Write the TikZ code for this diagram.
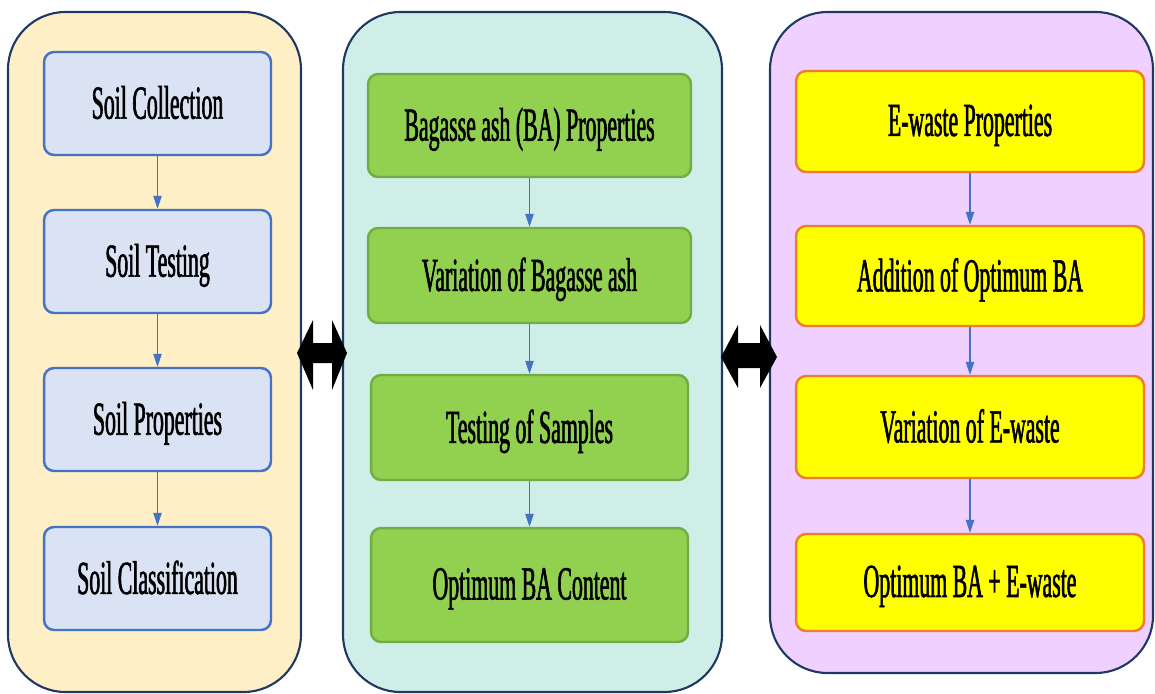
\documentclass[tikz,border=0pt]{standalone}
\usepackage{fontspec}
\newfontfamily\boxfont[FakeStretch=0.46, FakeBold=1.2]{Liberation Serif}
\usetikzlibrary{arrows.meta}

\definecolor{panelline}{HTML}{203864}
\definecolor{soilfill}{HTML}{FFEFC6}
\definecolor{ashfill}{HTML}{CFEEE8}
\definecolor{ewfill}{HTML}{F0D0FF}
\definecolor{bluefill}{HTML}{DAE3F3}
\definecolor{blueline}{HTML}{4472C4}
\definecolor{greenfill}{HTML}{92D050}
\definecolor{greenline}{HTML}{70AD47}
\definecolor{orangeline}{HTML}{ED7D31}
\definecolor{ewbox}{HTML}{FFFF00}

\tikzset{
	box/.style={rectangle, rounded corners=0.2cm, line width=1.4pt, align=center,
		font=\boxfont\fontsize{27}{32}\selectfont, inner sep=0pt, text depth=0.05cm},
	soilbox/.style={box, draw=blueline, fill=bluefill, minimum width=4.54cm, minimum height=2.06cm},
	ashbox/.style={box, draw=greenline, fill=greenfill, minimum width=6.46cm, minimum height=2.06cm},
	ewbox/.style={box, draw=orangeline, fill=ewbox, minimum width=6.96cm, minimum height=2.02cm},
	flow/.style={-{Triangle[width=0.17cm, length=0.26cm]}, draw=blueline, fill=blueline, line width=0.6pt},
	panel/.style={draw=panelline, line width=1.2pt, rounded corners=1.15cm}
}

\begin{document}
\begin{tikzpicture}[x=0.02cm, y=-0.02cm]
	\useasboundingbox (0, 0) rectangle (1155, 693);

	% panels
	\draw[panel, fill=soilfill] (8, 12) rectangle (301, 692);
	\draw[panel, fill=ashfill] (343, 12) rectangle (722, 692);
	\draw[panel, fill=ewfill] (770, 12) rectangle (1153, 673);

	% soil
	\node[soilbox] (soilcol) at (157.5, 103.5) {Soil Collection};
	\node[soilbox] (soiltest) at (157.5, 261.5) {Soil Testing};
	\node[soilbox] (soilprop) at (157.5, 419.5) {Soil Properties};
	\node[soilbox] (soilclass) at (157.5, 578.5) {Soil Classification};

	% bagasse ash
	\node[ashbox] (baprop) at (529.5, 125.5) {Bagasse ash (BA) Properties};
	\node[ashbox, minimum height=1.9cm] (bavar) at (529.5, 275.5) {Variation of Bagasse ash};
	\node[ashbox, minimum width=6.34cm, minimum height=2.1cm] (batest) at (529.5, 427.5) {Testing of Samples};
	\node[ashbox, minimum width=6.34cm, minimum height=2.28cm] (baopt) at (529.5, 585) {Optimum BA Content};

	% e-waste
	\node[ewbox] (ewprop) at (970, 121.5) {E-waste Properties};
	\node[ewbox, minimum height=2cm] (ewadd) at (970, 276) {Addition of Optimum BA};
	\node[ewbox, minimum height=2.04cm] (ewvar) at (970, 427) {Variation of E-waste};
	\node[ewbox, minimum height=1.94cm] (ewopt) at (970, 582.5) {Optimum BA + E-waste};

	\draw[flow] (soilcol) -- (soiltest);
	\draw[flow] (soiltest) -- (soilprop);
	\draw[flow] (soilprop) -- (soilclass);

	\draw[flow] (baprop) -- (bavar);
	\draw[flow] (bavar) -- (batest);
	\draw[flow] (batest) -- (baopt);

	\draw[flow] (ewprop) -- (ewadd);
	\draw[flow] (ewadd) -- (ewvar);
	\draw[flow] (ewvar) -- (ewopt);

	% links between panels
	\coordinate (linkl) at (297, 353);
	\coordinate (linkr) at (721, 357);
	\fill (linkl) -- ++(16, -33) -- ++(0, 23) -- ++(19, 0) -- ++(0, -23) -- ++(15, 33)
		-- ++(-15, 37) -- ++(0, -27) -- ++(-19, 0) -- ++(0, 27) -- cycle;
	\fill (linkr) -- ++(17, -32) -- ++(0, 18) -- ++(22, 0) -- ++(0, -18) -- ++(17, 32)
		-- ++(-17, 31) -- ++(0, -20) -- ++(-22, 0) -- ++(0, 20) -- cycle;

\end{tikzpicture}
\end{document}
